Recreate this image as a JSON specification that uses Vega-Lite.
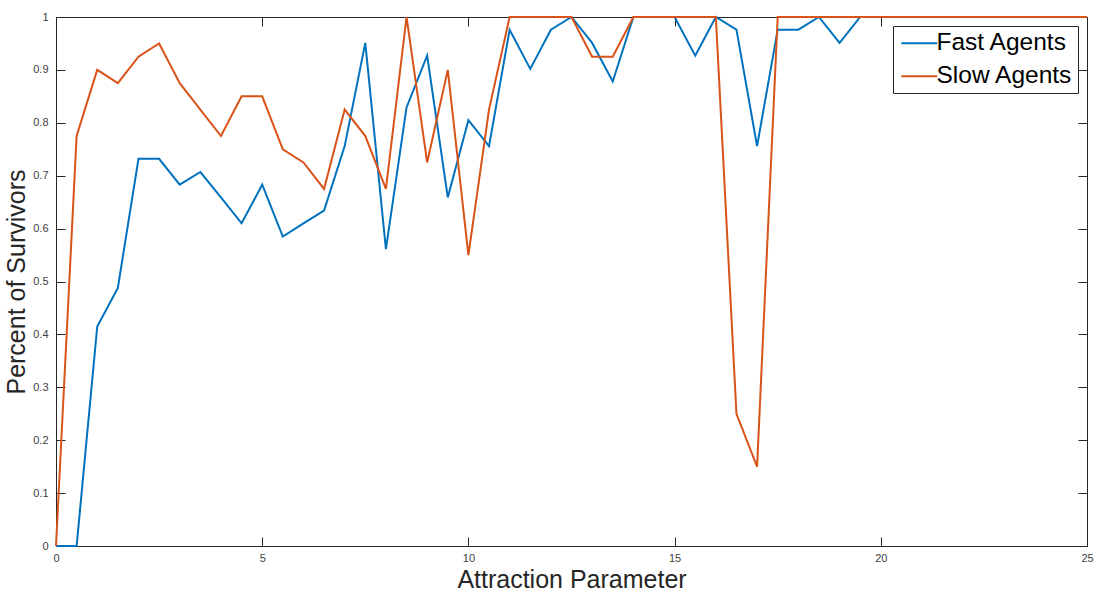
{
  "$schema": "https://vega.github.io/schema/vega-lite/v6.json",
  "width": 1031,
  "height": 529,
  "autosize": {"type": "none"},
  "padding": {"left": 56, "top": 17, "right": 10, "bottom": 50},
  "background": "white",
  "config": {
    "view": {"stroke": "#262626", "strokeWidth": 1},
    "font": "Liberation Sans",
    "axis": {
      "grid": false,
      "domainColor": "#262626",
      "tickColor": "#262626",
      "labelColor": "#404040",
      "labelFont": "Liberation Sans",
      "labelFontSize": 11,
      "labelFlush": false,
      "titleFont": "Liberation Sans",
      "titleFontWeight": "normal",
      "titleColor": "#262626",
      "titleFontSize": 25,
      "tickSize": -9
    }
  },
  "data": {
    "values": [
      {"x": 0, "series": "Fast Agents", "v": 0},
      {"x": 0.5, "series": "Fast Agents", "v": 0},
      {"x": 1, "series": "Fast Agents", "v": 0.415},
      {"x": 1.5, "series": "Fast Agents", "v": 0.488},
      {"x": 2, "series": "Fast Agents", "v": 0.732},
      {"x": 2.5, "series": "Fast Agents", "v": 0.732},
      {"x": 3, "series": "Fast Agents", "v": 0.683},
      {"x": 3.5, "series": "Fast Agents", "v": 0.707},
      {"x": 4, "series": "Fast Agents", "v": 0.659},
      {"x": 4.5, "series": "Fast Agents", "v": 0.61},
      {"x": 5, "series": "Fast Agents", "v": 0.683},
      {"x": 5.5, "series": "Fast Agents", "v": 0.585},
      {"x": 6, "series": "Fast Agents", "v": 0.61},
      {"x": 6.5, "series": "Fast Agents", "v": 0.634},
      {"x": 7, "series": "Fast Agents", "v": 0.756},
      {"x": 7.5, "series": "Fast Agents", "v": 0.951},
      {"x": 8, "series": "Fast Agents", "v": 0.561},
      {"x": 8.5, "series": "Fast Agents", "v": 0.829},
      {"x": 9, "series": "Fast Agents", "v": 0.927},
      {"x": 9.5, "series": "Fast Agents", "v": 0.659},
      {"x": 10, "series": "Fast Agents", "v": 0.805},
      {"x": 10.5, "series": "Fast Agents", "v": 0.756},
      {"x": 11, "series": "Fast Agents", "v": 0.976},
      {"x": 11.5, "series": "Fast Agents", "v": 0.902},
      {"x": 12, "series": "Fast Agents", "v": 0.976},
      {"x": 12.5, "series": "Fast Agents", "v": 1},
      {"x": 13, "series": "Fast Agents", "v": 0.951},
      {"x": 13.5, "series": "Fast Agents", "v": 0.878},
      {"x": 14, "series": "Fast Agents", "v": 1},
      {"x": 14.5, "series": "Fast Agents", "v": 1},
      {"x": 15, "series": "Fast Agents", "v": 1},
      {"x": 15.5, "series": "Fast Agents", "v": 0.927},
      {"x": 16, "series": "Fast Agents", "v": 1},
      {"x": 16.5, "series": "Fast Agents", "v": 0.976},
      {"x": 17, "series": "Fast Agents", "v": 0.756},
      {"x": 17.5, "series": "Fast Agents", "v": 0.976},
      {"x": 18, "series": "Fast Agents", "v": 0.976},
      {"x": 18.5, "series": "Fast Agents", "v": 1},
      {"x": 19, "series": "Fast Agents", "v": 0.951},
      {"x": 19.5, "series": "Fast Agents", "v": 1},
      {"x": 20, "series": "Fast Agents", "v": 1},
      {"x": 20.5, "series": "Fast Agents", "v": 1},
      {"x": 21, "series": "Fast Agents", "v": 1},
      {"x": 21.5, "series": "Fast Agents", "v": 1},
      {"x": 22, "series": "Fast Agents", "v": 1},
      {"x": 22.5, "series": "Fast Agents", "v": 1},
      {"x": 23, "series": "Fast Agents", "v": 1},
      {"x": 23.5, "series": "Fast Agents", "v": 1},
      {"x": 24, "series": "Fast Agents", "v": 1},
      {"x": 24.5, "series": "Fast Agents", "v": 1},
      {"x": 25, "series": "Fast Agents", "v": 1},
      {"x": 0, "series": "Slow Agents", "v": 0},
      {"x": 0.5, "series": "Slow Agents", "v": 0.775},
      {"x": 1, "series": "Slow Agents", "v": 0.9},
      {"x": 1.5, "series": "Slow Agents", "v": 0.875},
      {"x": 2, "series": "Slow Agents", "v": 0.925},
      {"x": 2.5, "series": "Slow Agents", "v": 0.95},
      {"x": 3, "series": "Slow Agents", "v": 0.875},
      {"x": 3.5, "series": "Slow Agents", "v": 0.825},
      {"x": 4, "series": "Slow Agents", "v": 0.775},
      {"x": 4.5, "series": "Slow Agents", "v": 0.85},
      {"x": 5, "series": "Slow Agents", "v": 0.85},
      {"x": 5.5, "series": "Slow Agents", "v": 0.75},
      {"x": 6, "series": "Slow Agents", "v": 0.725},
      {"x": 6.5, "series": "Slow Agents", "v": 0.675},
      {"x": 7, "series": "Slow Agents", "v": 0.825},
      {"x": 7.5, "series": "Slow Agents", "v": 0.775},
      {"x": 8, "series": "Slow Agents", "v": 0.675},
      {"x": 8.5, "series": "Slow Agents", "v": 1},
      {"x": 9, "series": "Slow Agents", "v": 0.725},
      {"x": 9.5, "series": "Slow Agents", "v": 0.9},
      {"x": 10, "series": "Slow Agents", "v": 0.55},
      {"x": 10.5, "series": "Slow Agents", "v": 0.825},
      {"x": 11, "series": "Slow Agents", "v": 1},
      {"x": 11.5, "series": "Slow Agents", "v": 1},
      {"x": 12, "series": "Slow Agents", "v": 1},
      {"x": 12.5, "series": "Slow Agents", "v": 1},
      {"x": 13, "series": "Slow Agents", "v": 0.925},
      {"x": 13.5, "series": "Slow Agents", "v": 0.925},
      {"x": 14, "series": "Slow Agents", "v": 1},
      {"x": 14.5, "series": "Slow Agents", "v": 1},
      {"x": 15, "series": "Slow Agents", "v": 1},
      {"x": 15.5, "series": "Slow Agents", "v": 1},
      {"x": 16, "series": "Slow Agents", "v": 1},
      {"x": 16.5, "series": "Slow Agents", "v": 0.25},
      {"x": 17, "series": "Slow Agents", "v": 0.15},
      {"x": 17.5, "series": "Slow Agents", "v": 1},
      {"x": 18, "series": "Slow Agents", "v": 1},
      {"x": 18.5, "series": "Slow Agents", "v": 1},
      {"x": 19, "series": "Slow Agents", "v": 1},
      {"x": 19.5, "series": "Slow Agents", "v": 1},
      {"x": 20, "series": "Slow Agents", "v": 1},
      {"x": 20.5, "series": "Slow Agents", "v": 1},
      {"x": 21, "series": "Slow Agents", "v": 1},
      {"x": 21.5, "series": "Slow Agents", "v": 1},
      {"x": 22, "series": "Slow Agents", "v": 1},
      {"x": 22.5, "series": "Slow Agents", "v": 1},
      {"x": 23, "series": "Slow Agents", "v": 1},
      {"x": 23.5, "series": "Slow Agents", "v": 1},
      {"x": 24, "series": "Slow Agents", "v": 1},
      {"x": 24.5, "series": "Slow Agents", "v": 1},
      {"x": 25, "series": "Slow Agents", "v": 1}
    ]
  },
  "layer": [
    {
      "mark": {"type": "line", "strokeWidth": 2},
      "encoding": {
        "x": {
          "field": "x", "type": "quantitative",
          "scale": {"domain": [0, 25], "nice": false},
          "axis": {"values": [0, 5, 10, 15, 20, 25], "title": "Attraction Parameter", "labelPadding": 15, "titlePadding": 4, "format": "~g"}
        },
        "y": {
          "field": "v", "type": "quantitative",
          "scale": {"domain": [0, 1], "nice": false},
          "axis": {"values": [0, 0.1, 0.2, 0.3, 0.4, 0.5, 0.6, 0.7, 0.8, 0.9, 1], "title": "Percent of Survivors", "labelPadding": 17, "titlePadding": 3, "format": "~g"}
        },
        "color": {
          "field": "series", "type": "nominal",
          "scale": {"domain": ["Fast Agents", "Slow Agents"], "range": ["#0072BD", "#D95319"]},
          "legend": {
            "title": null,
            "orient": "none",
            "legendX": 837,
            "legendY": 9,
            "symbolType": "M -1 0 H 3",
            "symbolSize": 324,
            "symbolStrokeWidth": 2,
            "labelFontSize": 24.5,
            "labelFont": "Liberation Sans",
            "labelColor": "#000000",
            "labelOffset": 14,
            "rowPadding": 8,
            "padding": 5,
            "strokeColor": "#262626",
            "fillColor": "white"
          }
        }
      }
    },
    {
      "mark": {"type": "line", "strokeOpacity": 0},
      "encoding": {
        "x": {
          "field": "x", "type": "quantitative",
          "axis": {"orient": "top", "values": [0, 5, 10, 15, 20, 25], "labels": false, "title": null, "domain": false}
        },
        "y": {
          "field": "v", "type": "quantitative",
          "axis": {"orient": "right", "values": [0, 0.1, 0.2, 0.3, 0.4, 0.5, 0.6, 0.7, 0.8, 0.9, 1], "labels": false, "title": null, "domain": false}
        },
        "detail": {"field": "series", "type": "nominal"}
      }
    }
  ],
  "resolve": {"axis": {"x": "independent", "y": "independent"}}
}
